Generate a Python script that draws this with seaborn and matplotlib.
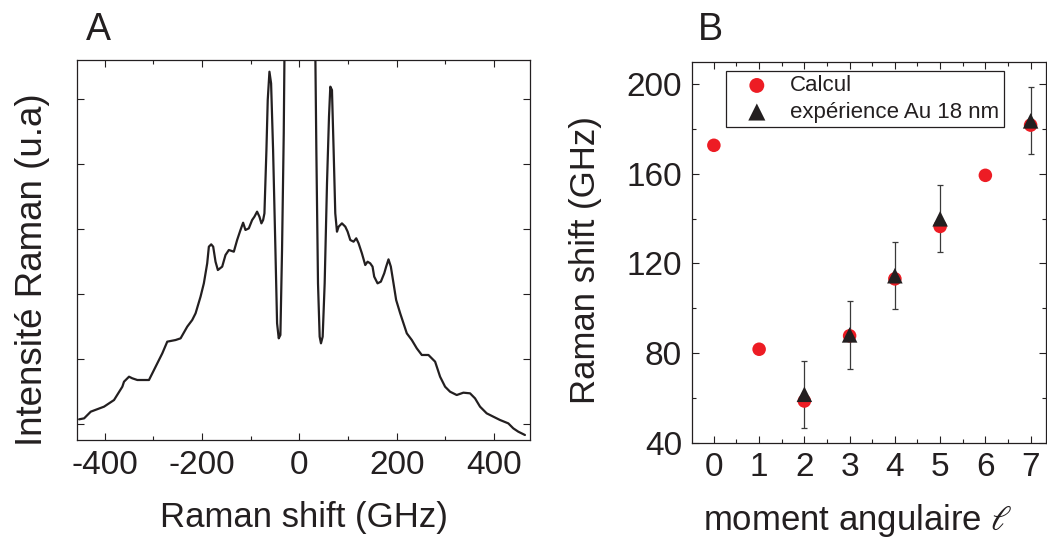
import numpy as np
import pandas as pd
import matplotlib
matplotlib.use("Agg")
import matplotlib.pyplot as plt
import seaborn as sns
from matplotlib.ticker import MultipleLocator

# ---------------- data ----------------
# Panel A: Raman spectrum (arbitrary intensity units)
shift_ghz = [-452.7, -442.4, -428.7, -401.4, -380.9, -363.8, -360.4, -350.1, -343.3, -333.0,
             -309.1, -302.2, -292.0, -281.7, -271.5, -254.4, -244.1, -230.4, -220.2, -213.3,
             -203.1, -196.3, -189.4, -186.0, -181.2, -177.1, -172.3, -167.5, -158.6, -151.8,
             -144.9, -134.7, -127.9, -121.0, -115.6, -110.8, -103.9, -97.1, -92.3, -86.9,
             -82.1, -78.0, -74.5, -71.8, -67.7, -65.0, -61.5, -58.1, -54.0, -49.2,
             -45.8, -42.4, -39.0, -35.6, -32.1, -29.0, -15.0, 0.0, 15.0, 31.0,
             34.9, 38.3, 41.7, 44.4, 47.9, 52.0, 56.8, 60.9, 63.6, 67.0,
             70.4, 73.8, 77.3, 80.7, 87.5, 94.4, 99.2, 104.6, 111.4, 116.9,
             121.7, 128.5, 135.4, 140.2, 145.6, 150.4, 153.8, 160.7, 167.5, 174.4,
             178.4, 183.2, 188.0, 193.5, 198.9, 207.2, 214.0, 220.8, 231.1, 241.3,
             251.6, 265.3, 279.0, 289.2, 299.5, 309.7, 323.4, 337.1, 350.8, 361.0,
             371.3, 385.0, 398.6, 412.3, 429.4, 439.7, 449.9, 463.6]
intensity = [0.072, 0.087, 0.190, 0.267, 0.369, 0.574, 0.651, 0.728, 0.703, 0.677,
             0.677, 0.780, 0.933, 1.087, 1.267, 1.292, 1.318, 1.498, 1.600, 1.703,
             1.959, 2.164, 2.472, 2.728, 2.764, 2.728, 2.497, 2.369, 2.421, 2.600,
             2.677, 2.651, 2.831, 2.985, 3.097, 2.985, 3.010, 3.138, 3.190, 3.267,
             3.190, 3.087, 3.138, 3.241, 4.215, 4.985, 5.420, 5.241, 4.215, 2.677,
             1.549, 1.318, 1.369, 2.677, 4.472, 7.0, 20.0, 30.0, 20.0, 7.0,
             4.215, 2.164, 1.344, 1.241, 1.344, 2.164, 3.703, 4.728, 5.190, 5.138,
             4.215, 3.241, 2.959, 3.036, 3.087, 3.036, 2.959, 2.831, 2.805, 2.857,
             2.780, 2.626, 2.446, 2.497, 2.472, 2.421, 2.267, 2.164, 2.190, 2.318,
             2.421, 2.533, 2.421, 2.164, 1.908, 1.703, 1.549, 1.395, 1.292, 1.164,
             1.062, 1.062, 0.959, 0.728, 0.574, 0.497, 0.446, 0.482, 0.472, 0.395,
             0.267, 0.164, 0.113, 0.062, 0.010, -0.067, -0.118, -0.169]

# Panel B: Raman shift vs angular momentum
l_calc = [0, 1, 2, 3, 4, 5, 6, 7]
shift_calc = [172.7, 81.7, 58.6, 87.7, 113.1, 136.5, 159.3, 181.7]
l_exp = [2, 3, 4, 5, 7]
shift_exp = [61.6, 88.1, 114.5, 139.9, 183.6]
err_exp = [15, 15, 15, 15, 15]

xticks_a = [-400, -200, 0, 200, 400]
yticks_b = [40, 80, 120, 160, 200]
xticks_b = [0, 1, 2, 3, 4, 5, 6, 7]

# ---------------- style ----------------
sns.set_theme(style="ticks")
plt.rcParams['font.family'] = ['Liberation Sans', 'DejaVu Sans']
ink = '#231f20'
red = '#ed1c24'
plt.rcParams.update({
    'axes.edgecolor': ink, 'axes.linewidth': 0.9,
    'xtick.color': ink, 'ytick.color': ink,
    'xtick.labelcolor': ink, 'ytick.labelcolor': ink,
    'text.color': ink, 'axes.labelcolor': ink,
    'axes.unicode_minus': False,
    'mathtext.fontset': 'stixsans',
})

fig = plt.figure(figsize=(10.47, 5.40), dpi=100)
axA = fig.add_axes([77/1047, 100/540, 453/1047, 380/540])
axB = fig.add_axes([691.7/1047, 97.3/540, 354.3/1047, 381/540])

# ---------------- panel A ----------------
dfA = pd.DataFrame({'shift': shift_ghz, 'I': intensity})
sns.lineplot(data=dfA, x='shift', y='I', ax=axA, color=ink, lw=1.6, sort=False)
axA.set_xlim(-457, 474)
axA.set_ylim(-0.246, 5.6)
axA.set_xticks(xticks_a)
axA.xaxis.set_minor_locator(MultipleLocator(100))
axA.set_yticks([0, 1, 2, 3, 4, 5])
axA.set_yticklabels([])
axA.tick_params(which='both', direction='in', top=True, right=True, width=0.8)
axA.tick_params(which='major', length=5)
axA.tick_params(which='minor', length=3)
axA.tick_params(axis='x', labelsize=24, pad=7)
axA.set_xlabel('Raman shift (GHz)', fontsize=25, va='center')
axA.xaxis.set_label_coords(0.5, -0.205)
axA.set_ylabel('Intensité Raman (u.a)', fontsize=26.5, va='center')
axA.yaxis.set_label_coords(-0.099, 0.447)

# ---------------- panel B ----------------
axB.errorbar(l_exp, shift_exp, yerr=err_exp, fmt='none', ecolor='#3a3a3a',
             elinewidth=0.9, capsize=2.5, capthick=0.9, zorder=2)
sns.scatterplot(x=l_calc, y=shift_calc, ax=axB, marker='o', s=95, color=red,
                edgecolor='none', label='Calcul', zorder=3)
sns.scatterplot(x=l_exp, y=shift_exp, ax=axB, marker='^', s=125, color=ink,
                edgecolor='none', label='expérience Au 18 nm', zorder=4)
axB.set_xlim(-0.49, 7.34)
axB.set_ylim(40, 210)
axB.set_xticks(xticks_b)
axB.set_yticks(yticks_b)
axB.xaxis.set_minor_locator(MultipleLocator(0.5))
axB.yaxis.set_minor_locator(MultipleLocator(20))
axB.tick_params(which='both', direction='in', top=True, right=True, width=0.8)
axB.tick_params(which='major', length=5)
axB.tick_params(which='minor', length=3)
axB.tick_params(labelsize=24, pad=7)
axB.set_xlabel(r'moment angulaire $\ell$', fontsize=25, va='center')
axB.xaxis.set_label_coords(0.468, -0.203)
axB.set_ylabel('Raman shift (GHz)', fontsize=25, va='center')
axB.yaxis.set_label_coords(-0.301, 0.48)

leg = axB.legend(loc='upper left', bbox_to_anchor=(0.096, 0.976), borderaxespad=0,
                 fontsize=16, frameon=True, fancybox=False, framealpha=1,
                 edgecolor=ink, handletextpad=0.3, labelspacing=0.25,
                 borderpad=0.2, handlelength=2.4, markerscale=1.1)
leg.get_frame().set_linewidth(0.9)

fig.text(98/1047, 1 - 30/540, 'A', fontsize=27, ha='center', va='center')
fig.text(710/1047, 1 - 30/540, 'B', fontsize=27, ha='center', va='center')

fig.savefig('out.png', dpi=100)
